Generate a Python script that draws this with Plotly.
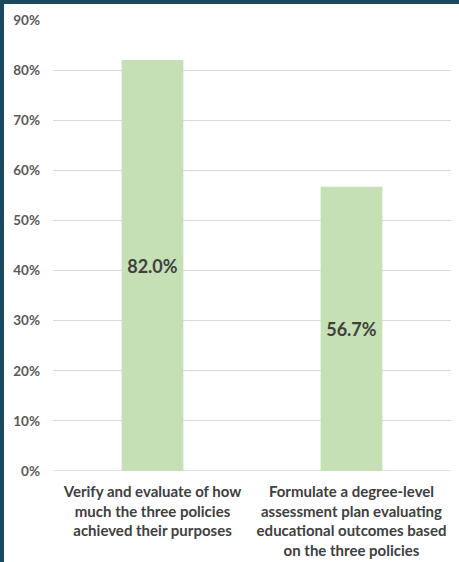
import plotly.graph_objects as go

categories = [
    "Verify and evaluate of how<br>much the three policies<br>achieved their purposes",
    "Formulate a degree-level<br>assessment plan evaluating<br>educational outcomes based<br>on the three policies",
]
values = [0.820, 0.567]
value_labels = ["82.0%", "56.7%"]
tick_vals = [0, 0.1, 0.2, 0.3, 0.4, 0.5, 0.6, 0.7, 0.8, 0.9]
tick_text = ["0%", "10%", "20%", "30%", "40%", "50%", "60%", "70%", "80%", "90%"]

W, H = 459, 562
L, R, T, B = 53, 8, 20, 91

fig = go.Figure(go.Bar(
    x=categories, y=values, width=0.31,
    marker=dict(color="#c5e0b4", line=dict(width=0)),
    text=value_labels, textposition="inside", insidetextanchor="middle",
    textangle=0,
    textfont=dict(family="Lato", size=18, color="#404040", weight="bold"),
    cliponaxis=False,
))

fig.update_layout(
    width=W, height=H,
    margin=dict(l=L, r=R, t=T, b=B),
    paper_bgcolor="white", plot_bgcolor="white",
    showlegend=False,
    bargap=0.69,
    font=dict(family="Lato", color="#595959"),
    yaxis=dict(range=[0, 0.9], tickvals=tick_vals, ticktext=tick_text,
               showgrid=True, gridcolor="#d9d9d9", gridwidth=1.3,
               zeroline=False, showline=False, ticks="",
               tickfont=dict(family="Lato", size=13.5, color="#595959", weight="bold"),
               ticklabelstandoff=12, fixedrange=True, automargin=False),
    xaxis=dict(showline=False, ticks="", showgrid=False,
               tickfont=dict(family="Lato", size=15, color="#404040", weight="bold"),
               ticklabelstandoff=10, automargin=False),
    shapes=[
        dict(type="line", xref="paper", yref="y", x0=0, x1=1, y0=0, y1=0,
             line=dict(color="#d9d9d9", width=1.3), layer="below"),
        dict(type="rect", xref="paper", yref="paper",
             x0=-L / (W - L - R), x1=(-L + 4) / (W - L - R),
             y0=-B / (H - T - B), y1=1 + T / (H - T - B),
             fillcolor="#1b4a5e", line=dict(width=0)),
        dict(type="rect", xref="paper", yref="paper",
             x0=-L / (W - L - R), x1=1 + R / (W - L - R),
             y0=1 + (T - 4) / (H - T - B), y1=1 + T / (H - T - B),
             fillcolor="#1b4a5e", line=dict(width=0)),
    ],
)

fig.write_html("out.html")
